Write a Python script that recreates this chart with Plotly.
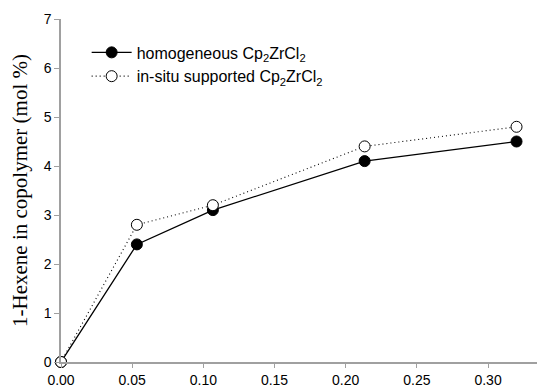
import plotly.graph_objects as go

x_vals = [0.0, 0.0533, 0.1067, 0.2133, 0.32]
homogeneous = [0.0, 2.4, 3.1, 4.1, 4.5]
in_situ = [0.0, 2.8, 3.2, 4.4, 4.8]
x_ticks = [0.0, 0.05, 0.10, 0.15, 0.20, 0.25, 0.30]
x_tick_labels = ["0.00", "0.05", "0.10", "0.15", "0.20", "0.25", "0.30"]
y_ticks = [0, 1, 2, 3, 4, 5, 6, 7]

fig = go.Figure()
fig.add_trace(go.Scatter(
    x=x_vals, y=homogeneous, mode="lines+markers",
    name="homogeneous Cp<sub>2</sub>ZrCl<sub>2</sub>",
    line=dict(color="black", width=1.3, dash="solid"),
    marker=dict(symbol="circle", size=11, color="black", line=dict(color="black", width=1)),
    cliponaxis=False,
))
fig.add_trace(go.Scatter(
    x=x_vals, y=in_situ, mode="lines+markers",
    name="in-situ supported Cp<sub>2</sub>ZrCl<sub>2</sub>",
    line=dict(color="black", width=1.1, dash="1px,3px"),
    marker=dict(symbol="circle", size=11, color="white", line=dict(color="black", width=1)),
    cliponaxis=False,
))

fig.update_layout(
    width=537, height=380,
    margin=dict(l=53, r=0, t=11, b=26, autoexpand=False),
    paper_bgcolor="white", plot_bgcolor="white",
    font=dict(family="Liberation Sans, Arial, sans-serif", size=14, color="black"),
    showlegend=True,
    legend=dict(
        x=0.053, y=0.952, xanchor="left", yanchor="top",
        bgcolor="rgba(0,0,0,0)", font=dict(size=16),
        tracegroupgap=2, itemwidth=40,
    ),
    xaxis=dict(
        range=[0, 0.340], tickmode="array", tickvals=x_ticks, ticktext=x_tick_labels,
        showline=True, linecolor="#a0a0a0", linewidth=1.5, ticks="outside",
        ticklen=4, tickcolor="#a0a0a0", showgrid=False, zeroline=False,
        tickfont=dict(size=14), automargin=False,
    ),
    yaxis=dict(
        range=[0, 7], tickmode="array", tickvals=y_ticks,
        showline=True, linecolor="#a0a0a0", linewidth=1.5, ticks="outside",
        ticklen=5, tickcolor="#a0a0a0", showgrid=False, zeroline=False,
        tickfont=dict(size=14), automargin=False,
        title=dict(text="1-Hexene in copolymer (mol %)",
                   font=dict(family="Liberation Serif, Times New Roman, serif", size=21),
                   standoff=10),
    ),
)

fig.write_html("out.html")
